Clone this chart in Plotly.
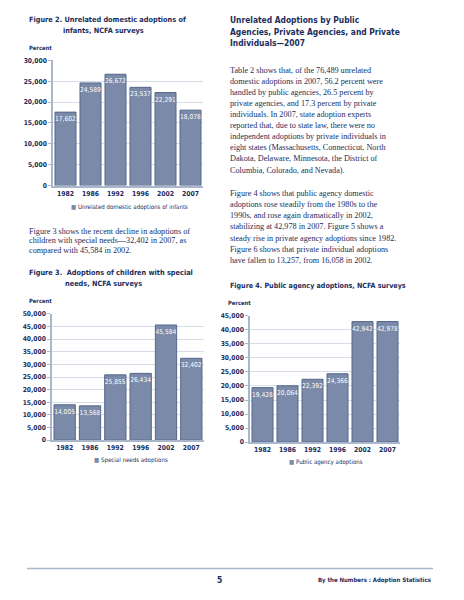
import plotly.graph_objects as go

# page is 464x600 but the browser body keeps an 8px margin
W, H = 456, 592
OFF = 8

years = ['1982', '1986', '1992', '1996', '2002', '2007']
infants = [17602, 24589, 26672, 23537, 22291, 18078]
special_needs = [14005, 13568, 25855, 26434, 45584, 32402]
public_agency = [19428, 20064, 22392, 24366, 42942, 42978]

NAVY = '#1b2d5c'
BAR = '#7a8aa8'
BAR_LINE = '#55668a'
AXIS = '#a9b6cc'
GRID = '#d6dde8'
SANS = "'DejaVu Sans Condensed', Roboto, sans-serif"
SERIF = "'Liberation Serif', 'DejaVu Serif', serif"


def px_x(x):
    return (x - OFF) / W


def px_y(y):
    return 1 - (y - OFF) / H


def bar_trace(vals, ax):
    return go.Bar(
        x=years, y=vals, xaxis='x' + ax, yaxis='y' + ax,
        marker=dict(color=BAR, line=dict(color=BAR_LINE, width=1)),
        texttemplate='%{y:,}', textposition='inside', insidetextanchor='end',
        textangle=0, constraintext='none',
        textfont=dict(color='white', size=6.6, family=SANS),
        showlegend=False, hoverinfo='skip',
    )


fig = go.Figure()
fig.add_trace(bar_trace(infants, ''))
fig.add_trace(bar_trace(special_needs, '2'))
fig.add_trace(bar_trace(public_agency, '3'))


def x_axis(x0, x1, yname):
    return dict(domain=[px_x(x0), px_x(x1)], anchor=yname, showgrid=False,
                showline=True, linecolor=AXIS, linewidth=1.5, ticks='',
                tickfont=dict(size=6.8, color=NAVY, family=SANS, weight='bold'),
                fixedrange=True)


def y_axis(y0, y1, top, step, xname):
    return dict(domain=[px_y(y1), px_y(y0)], anchor=xname, range=[0, top],
                dtick=step, tickformat=',', showgrid=True, gridcolor=GRID,
                gridwidth=1, showline=True, linecolor=AXIS, linewidth=1.5,
                ticks='outside', ticklen=3, tickcolor=AXIS, zeroline=False,
                tickfont=dict(size=6.7, color=NAVY, family=SANS, weight='bold'),
                fixedrange=True)


fig.update_layout(
    width=W, height=H,
    margin=dict(l=0, r=0, t=0, b=0),
    paper_bgcolor='white', plot_bgcolor='white',
    bargap=0.16,
    xaxis=x_axis(53, 203, 'y'),
    yaxis=y_axis(57, 184, 30000, 5000, 'x'),
    xaxis2=x_axis(52, 204, 'y2'),
    yaxis2=y_axis(314, 442, 50000, 5000, 'x2'),
    xaxis3=x_axis(250, 400, 'y3'),
    yaxis3=y_axis(316, 444, 45000, 5000, 'x3'),
)

notes = []


def text(x, y, s, size=9, family=SANS, bold=False, anchor='left', color=NAVY):
    if bold:
        s = '<b>' + s + '</b>'
    notes.append(dict(x=px_x(x), y=px_y(y), xref='paper', yref='paper',
                      text=s, showarrow=False, xanchor=anchor, yanchor='middle',
                      font=dict(size=size, family=family, color=color)))


# figure titles
text(27, 16, 'Figure 2. Unrelated domestic adoptions of', 7.3, bold=True)
text(61, 27, 'infants, NCFA surveys', 7.3, bold=True)
text(27, 272, 'Figure 3.  Adoptions of children with special', 7.3, bold=True)
text(63, 283, 'needs, NCFA surveys', 7.3, bold=True)
text(228, 285, 'Figure 4. Public agency adoptions, NCFA surveys', 7.1, bold=True)

for x, y in [(27, 44), (27, 301), (226, 303)]:
    text(x, y, 'Percent', 5.8, bold=True)

# legends
legends = [(69, 206, 'Unrelated domestic adoptions of infants'),
           (92, 462, 'Special needs adoptions'),
           (287, 464, 'Public agency adoptions')]
for x, y, lab in legends:
    text(x, y, "<span style='color:%s'>\u25a0</span> %s" % (BAR, lab), 6.1)

# right column heading
heading = ['Unrelated Adoptions by Public',
           'Agencies, Private Agencies, and Private',
           'Individuals\u20142007']
for i, line in enumerate(heading):
    text(228, 16.5 + i * 11.7, line, 8.4, bold=True)

para1 = ['Table 2 shows that, of the 76,489 unrelated',
         'domestic adoptions in 2007, 56.2 percent were',
         'handled by public agencies, 26.5 percent by',
         'private agencies, and 17.3 percent by private',
         'individuals. In 2007, state adoption experts',
         'reported that, due to state law, there were no',
         'independent adoptions by private individuals in',
         'eight states (Massachusetts, Connecticut, North',
         'Dakota, Delaware, Minnesota, the District of',
         'Columbia, Colorado, and Nevada).']
for i, line in enumerate(para1):
    text(228, 67 + i * 11.25, line, 8.2, SERIF)

para2 = ['Figure 4 shows that public agency domestic',
         'adoptions rose steadily from the 1980s to the',
         '1990s, and rose again dramatically in 2002,',
         'stabilizing at 42,978 in 2007. Figure 5 shows a',
         'steady rise in private agency adoptions since 1982.',
         'Figure 6 shows that private individual adoptions',
         'have fallen to 13,257, from 16,058 in 2002.']
for i, line in enumerate(para2):
    text(228, 192 + i * 11.3, line, 8.2, SERIF)

para3 = ['Figure 3 shows the recent decline in adoptions of',
         'children with special needs\u201432,402 in 2007, as',
         'compared with 45,584 in 2002.']
for i, line in enumerate(para3):
    text(27, 230 + i * 10, line, 8.2, SERIF)

# footer
text(215, 584, '5', 8.5, bold=True)
text(433, 584, 'By the Numbers : Adoption Statistics', 6, bold=True, anchor='right')

fig.update_layout(annotations=notes)
fig.add_shape(type='line', xref='paper', yref='paper',
              x0=px_x(27), x1=px_x(433), y0=px_y(572), y1=px_y(572),
              line=dict(color=AXIS, width=1.5))

fig.write_html("out.html")
